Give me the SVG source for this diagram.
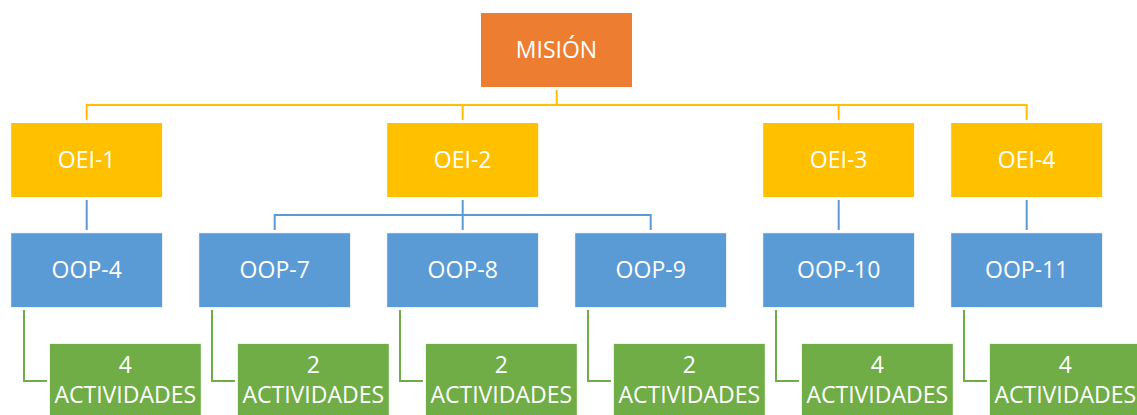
<svg xmlns="http://www.w3.org/2000/svg" width="1137" height="415" viewBox="0 0 1137 415">
<style>
.box{stroke:#ffffff;stroke-width:1}
.m{fill:#ED7D31}.y{fill:#FFC000}.b{fill:#5B9BD5}.g{fill:#70AD47}
text{font-family:"Open Sans","Liberation Sans",sans-serif;font-size:23px;fill:#ffffff;text-anchor:middle}
.cy{stroke:#FFC000;stroke-width:2;fill:none}
.cb{stroke:#5B9BD5;stroke-width:2;fill:none}
.cg{stroke:#70AD47;stroke-width:2;fill:none}
</style>
<rect width="1137" height="415" fill="#ffffff"/>
<g id="connectors">
<path class="cy" d="M556.7 90V105M86.7 120V105H1026.7V120M462.7 105V120M838.7 105V120"/>
<path class="cb" d="M86.7 200V230M462.7 200V215M274.7 230V215H650.7V230M462.7 215V230M838.7 200V230M1026.7 200V230"/>
<path class="cg" d="M24 310V381H47M212 310V381H235M400 310V381H423M588 310V381H611M776 310V381H799M964 310V381H987"/>
</g>
<g id="mision"><rect class="box m" x="480.5" y="12.5" width="152" height="75"/><text x="556.5" y="58.3">MISIÓN</text></g>
<g id="oei1"><rect class="box y" x="10.7" y="122.5" width="152" height="75"/><text x="86.7" y="168.3">OEI-1</text></g>
<g id="oei2"><rect class="box y" x="386.7" y="122.5" width="152" height="75"/><text x="462.7" y="168.3">OEI-2</text></g>
<g id="oei3"><rect class="box y" x="762.7" y="122.5" width="152" height="75"/><text x="838.7" y="168.3">OEI-3</text></g>
<g id="oei4"><rect class="box y" x="950.7" y="122.5" width="152" height="75"/><text x="1026.7" y="168.3">OEI-4</text></g>
<g id="oop4"><rect class="box b" x="10.7" y="232.7" width="152" height="75"/><text x="86.7" y="278.3">OOP-4</text></g>
<g id="oop7"><rect class="box b" x="198.7" y="232.7" width="152" height="75"/><text x="274.7" y="278.3">OOP-7</text></g>
<g id="oop8"><rect class="box b" x="386.7" y="232.7" width="152" height="75"/><text x="462.7" y="278.3">OOP-8</text></g>
<g id="oop9"><rect class="box b" x="574.7" y="232.7" width="152" height="75"/><text x="650.7" y="278.3">OOP-9</text></g>
<g id="oop10"><rect class="box b" x="762.7" y="232.7" width="152" height="75"/><text x="838.7" y="278.3">OOP-10</text></g>
<g id="oop11"><rect class="box b" x="950.7" y="232.7" width="152" height="75"/><text x="1026.7" y="278.3">OOP-11</text></g>
<g id="act4"><rect class="box g" x="49.3" y="343.3" width="152" height="75"/><text x="125.3" y="372.5">4</text><text x="125.3" y="403">ACTIVIDADES</text></g>
<g id="act7"><rect class="box g" x="237.3" y="343.3" width="152" height="75"/><text x="313.3" y="372.5">2</text><text x="313.3" y="403">ACTIVIDADES</text></g>
<g id="act8"><rect class="box g" x="425.3" y="343.3" width="152" height="75"/><text x="501.3" y="372.5">2</text><text x="501.3" y="403">ACTIVIDADES</text></g>
<g id="act9"><rect class="box g" x="613.3" y="343.3" width="152" height="75"/><text x="689.3" y="372.5">2</text><text x="689.3" y="403">ACTIVIDADES</text></g>
<g id="act10"><rect class="box g" x="801.3" y="343.3" width="152" height="75"/><text x="877.3" y="372.5">4</text><text x="877.3" y="403">ACTIVIDADES</text></g>
<g id="act11"><rect class="box g" x="989.3" y="343.3" width="152" height="75"/><text x="1065.3" y="372.5">4</text><text x="1065.3" y="403">ACTIVIDADES</text></g>
</svg>
